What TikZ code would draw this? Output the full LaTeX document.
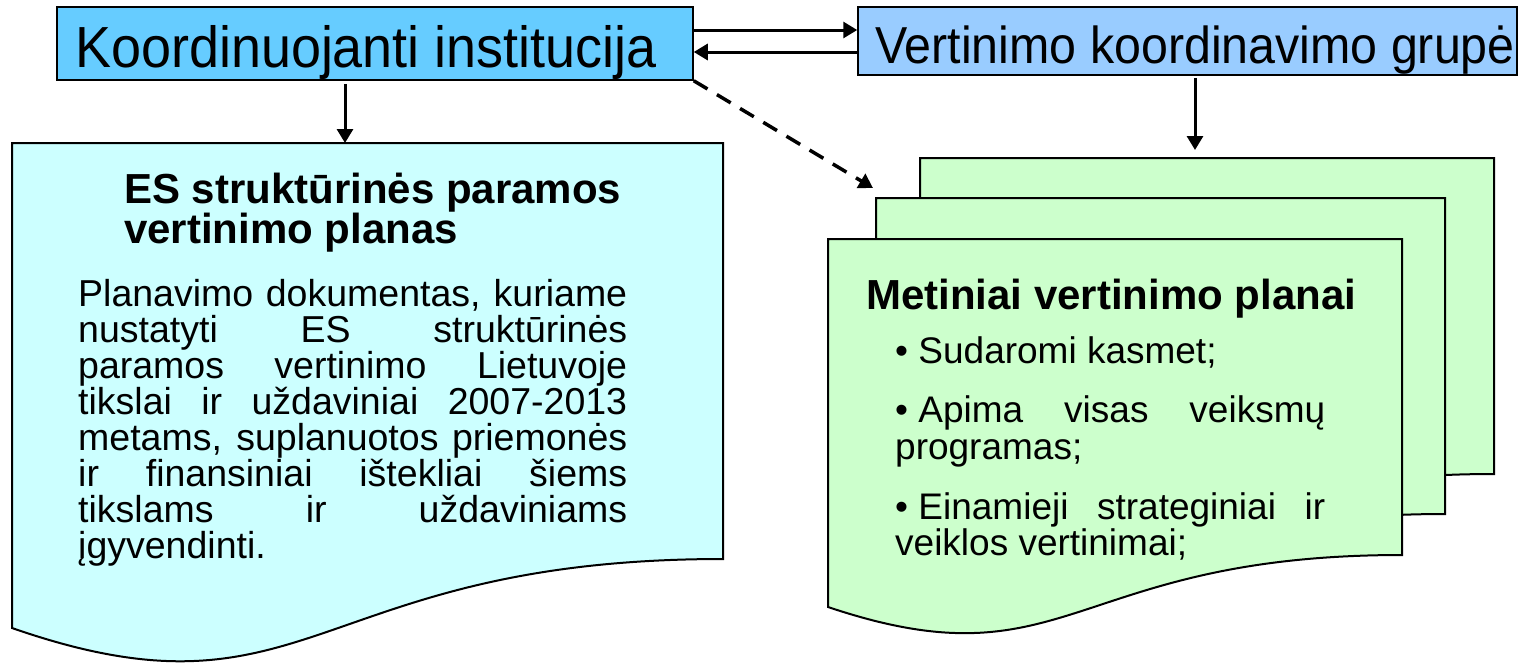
\documentclass[tikz,border=0pt]{standalone}
\usepackage{fontspec}
\setmainfont{Liberation Sans}
\newfontfamily\topfont[FakeStretch=0.93]{Liberation Sans}
\usetikzlibrary{arrows.meta}
\definecolor{kiblue}{HTML}{66CCFF}
\definecolor{vkblue}{HTML}{99CCFF}
\definecolor{docblue}{HTML}{CCFFFF}
\definecolor{docgreen}{HTML}{CCFFCC}
\newcommand\lfill[1]{\makebox[549pt][s]{#1}}
\newcommand\rfill[1]{\makebox[430pt][s]{#1}}
\newcommand\bul{•\hspace{.278em}}
\tikzset{
  topbox/.style={draw=black, line width=1.5pt, inner sep=0pt},
  docshape/.style={draw=black, line width=2pt, line join=miter},
  conn/.style={line width=3pt, -{Triangle[length=14pt,width=16pt]}},
  dconn/.style={conn, line width=3.5pt, dash pattern=on 16pt off 11pt},
  lbl/.style={inner sep=0pt, anchor=base west},
  ltxt/.style={lbl, font=\fontsize{37.5}{36}\selectfont},
  rtxt/.style={lbl, font=\fontsize{37}{37}\selectfont},
  ttl/.style={lbl, font=\bfseries\fontsize{42}{42}\selectfont},
}
\begin{document}
\begin{tikzpicture}[x=1pt,y=-1pt]
\useasboundingbox (0,0) rectangle (1523,662);
\fill[white] (0,0) rectangle (1523,662);

% documents
\path[docshape, fill=docgreen] (920,158) -- (1494,158) -- (1494,474)
  .. controls (1161,474) and (1161,607) .. (920,526) -- cycle;
\path[docshape, fill=docgreen] (876,198) -- (1445,198) -- (1445,514)
  .. controls (1115,514) and (1115,647) .. (876,566) -- cycle;
\path[docshape, fill=docgreen] (828,239) -- (1402,239) -- (1402,555)
  .. controls (1069,555) and (1069,688) .. (828,607) -- cycle;
\path[docshape, fill=docblue] (12,143) -- (723,143) -- (723,559)
  .. controls (311,559) and (311,732) .. (12,628) -- cycle;

\coordinate (ldtop) at (345,143);
\coordinate (backtop) at (1195,158);
\coordinate (dtip) at (873,188);
\coordinate (yA) at (0,30);
\coordinate (yB) at (0,52);

% top boxes
\node[topbox, fill=kiblue, minimum width=636pt, minimum height=73pt] (ki) at (375,43.5) {};
\node[inner sep=0pt, anchor=base] (kitxt) at (366,67) {\topfont\fontsize{58}{60}\selectfont Koordinuojanti institucija};
\node[topbox, fill=vkblue, minimum width=659pt, minimum height=68pt] (vk) at (1187.5,41) {};
\node[inner sep=0pt, anchor=base] (vktxt) at (1195,63) {\topfont\fontsize{52}{54}\selectfont Vertinimo koordinavimo grupė};

% connectors
\draw[conn] (ki.east |- yA) -- (vk.west |- yA);
\draw[conn] (vk.west |- yB) -- (ki.east |- yB);
\draw[conn, shorten <=3pt] (ki.south -| ldtop) -- (ldtop);
\draw[conn, shorten <=2pt, shorten >=8pt] (vk.south -| backtop) -- (backtop);
\draw[dconn] (ki.south east) -- (dtip);

% left document text
\node[ttl] (lt1) at (124,203) {ES struktūrinės paramos};
\node[ttl] (lt2) at (124,243) {vertinimo planas};
\node[ltxt] (lb1) at (78,306) {\lfill{Planavimo dokumentas, kuriame}};
\node[ltxt] (lb2) at (78,342) {\lfill{nustatyti ES struktūrinės}};
\node[ltxt] (lb3) at (78,378) {\lfill{paramos vertinimo Lietuvoje}};
\node[ltxt] (lb4) at (78,414) {\lfill{tikslai ir uždaviniai 2007-2013}};
\node[ltxt] (lb5) at (78,450) {\lfill{metams, suplanuotos priemonės}};
\node[ltxt] (lb6) at (78,486) {\lfill{ir finansiniai ištekliai šiems}};
\node[ltxt] (lb7) at (78,522) {\lfill{tikslams ir uždaviniams}};
\node[ltxt] (lb8) at (78,558) {įgyvendinti.};

% right document text
\node[ttl] (rt) at (866,309) {Metiniai vertinimo planai};
\node[rtxt] (rb1) at (895,363) {\bul Sudaromi kasmet;};
\node[rtxt] (rb2) at (895,422) {\rfill{\bul Apima visas veiksmų}};
\node[rtxt] (rb3) at (895,459) {programas;};
\node[rtxt] (rb4) at (895,519) {\rfill{\bul Einamieji strateginiai ir}};
\node[rtxt] (rb5) at (895,555) {veiklos vertinimai;};
\end{tikzpicture}
\end{document}
